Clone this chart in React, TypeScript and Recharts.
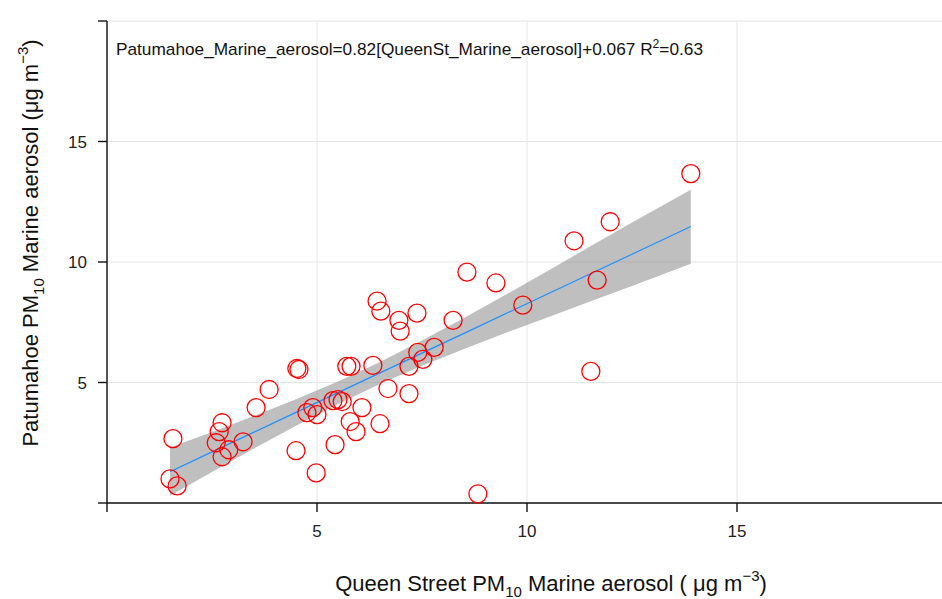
import {
  ComposedChart, Scatter, Area, Line, XAxis, YAxis, CartesianGrid,
} from 'recharts';

// Queen Street (x) vs Patumahoe (y) marine aerosol, ug m-3
const queenSt = [
  1.57, 1.5, 1.67, 2.6, 2.67, 2.74, 2.74, 2.9, 3.24, 3.55,
  3.86, 4.5, 4.52, 4.57, 4.76, 4.9, 5.0, 4.98, 5.38, 5.5,
  5.6, 5.79, 5.93, 6.07, 5.43, 5.71, 5.81, 6.33, 6.43, 6.52,
  6.95, 6.98, 7.38, 6.5, 6.69, 7.19, 7.19, 7.4, 7.52, 7.79,
  8.24, 8.57, 9.26, 8.83, 9.9, 11.12, 11.98, 11.52, 11.67, 13.9,
];
const patumahoe = [
  2.67, 1.0, 0.71, 2.5, 2.96, 3.33, 1.92, 2.21, 2.54, 3.96,
  4.71, 2.17, 5.58, 5.54, 3.75, 3.96, 3.67, 1.25, 4.25, 4.29,
  4.21, 3.38, 2.96, 3.96, 2.42, 5.67, 5.67, 5.71, 8.38, 7.96,
  7.58, 7.13, 7.88, 3.29, 4.75, 4.54, 5.67, 6.25, 5.96, 6.46,
  7.58, 9.58, 9.13, 0.38, 8.21, 10.88, 11.67, 5.46, 9.25, 13.67,
];

// fitted line and 95% confidence band
const bandX = [1.5, 2.5, 3.5, 4.5, 5.5, 6.5, 7.5, 8.5, 9.5, 10.5, 11.5, 12.5, 13.9];
const fitY = [1.3, 2.12, 2.94, 3.76, 4.58, 5.4, 6.22, 7.04, 7.86, 8.68, 9.5, 10.32, 11.47];
const bandLow = [0.3, 1.29, 2.26, 3.21, 4.11, 4.94, 5.69, 6.39, 7.06, 7.71, 8.36, 9.0, 9.93];
const bandHigh = [2.3, 2.95, 3.61, 4.3, 5.04, 5.85, 6.74, 7.68, 8.65, 9.64, 10.64, 11.64, 13.0];

const axisTicks = [0, 5, 10, 15, 20];

const points = queenSt.map((x, i) => ({ x, y: patumahoe[i] }));
const band = bandX.map((x, i) => ({ x, fit: fitY[i], range: [bandLow[i], bandHigh[i]] }));

const FONT = 'Arial, "Liberation Sans", sans-serif';
const AXIS = '#111';

const hideEnds = (v: number) => (v === 0 || v === 20 ? '' : String(v));

const OpenCircle = (props: any) => {
  const { cx, cy } = props;
  if (cx == null || cy == null) return null;
  return <circle cx={cx} cy={cy} r={9} fill="none" stroke="#ff0000" strokeWidth={1.3} />;
};

const XTitle = () => (
  <text x={551} y={591} textAnchor="middle" fontFamily={FONT} fontSize={22} fill="#111">
    Queen Street PM
    <tspan fontSize={15} dy={6}>10</tspan>
    <tspan dy={-6}> Marine aerosol ( μg m</tspan>
    <tspan fontSize={15} dy={-10}>−3</tspan>
    <tspan dy={10}>)</tspan>
  </text>
);

const YTitle = () => (
  <text
    x={0}
    y={0}
    transform="translate(38,243) rotate(-90)"
    textAnchor="middle"
    fontFamily={FONT}
    fontSize={22}
    fill="#111"
  >
    Patumahoe PM
    <tspan fontSize={15} dy={6}>10</tspan>
    <tspan dy={-6}> Marine aerosol (μg m</tspan>
    <tspan fontSize={15} dy={-10}>−3</tspan>
    <tspan dy={10}>)</tspan>
  </text>
);

export default function App() {
  return (
    <div style={{ position: 'absolute', left: 0, top: 0, width: 942, height: 599, overflow: 'hidden', background: '#fff' }}>
      <ComposedChart
        width={960}
        height={599}
        data={band}
        margin={{ top: 21, right: 13, bottom: 0, left: 0 }}
      >
        <CartesianGrid stroke="#e6e6e6" strokeWidth={1} />
        <XAxis
          dataKey="x"
          type="number"
          domain={[0, 20]}
          ticks={axisTicks}
          tickFormatter={hideEnds}
          height={96}
          tickSize={9}
          tickMargin={13}
          stroke={AXIS}
          strokeWidth={1.4}
          tick={{ fill: '#222', fontSize: 17, fontFamily: FONT }}
          label={<XTitle />}
        />
        <XAxis
          xAxisId="top"
          orientation="top"
          type="number"
          domain={[0, 20]}
          ticks={axisTicks}
          tickFormatter={() => ''}
          height={0}
          tickSize={9}
          stroke={AXIS}
          strokeWidth={1.4}
        />
        <YAxis
          type="number"
          domain={[0, 20]}
          ticks={axisTicks}
          tickFormatter={hideEnds}
          width={107}
          tickSize={9}
          tickMargin={11}
          stroke={AXIS}
          strokeWidth={1.4}
          tick={{ fill: '#222', fontSize: 17, fontFamily: FONT }}
          label={<YTitle />}
        />
        <Scatter data={points} dataKey="y" shape={<OpenCircle />} isAnimationActive={false} />
        <Area
          dataKey="range"
          type="linear"
          fill="#7f7f7f"
          fillOpacity={0.5}
          stroke="none"
          isAnimationActive={false}
          activeDot={false}
        />
        <Line
          dataKey="fit"
          type="linear"
          stroke="#1e90ff"
          strokeWidth={1.2}
          dot={false}
          activeDot={false}
          isAnimationActive={false}
        />
        <text x={116} y={55} fontFamily={FONT} fontSize={17} fill="#111" textLength={587} lengthAdjust="spacingAndGlyphs">
          Patumahoe_Marine_aerosol=0.82[QueenSt_Marine_aerosol]+0.067 R
          <tspan fontSize={12} dy={-7}>2</tspan>
          <tspan dy={7}>=0.63</tspan>
        </text>
      </ComposedChart>
    </div>
  );
}
